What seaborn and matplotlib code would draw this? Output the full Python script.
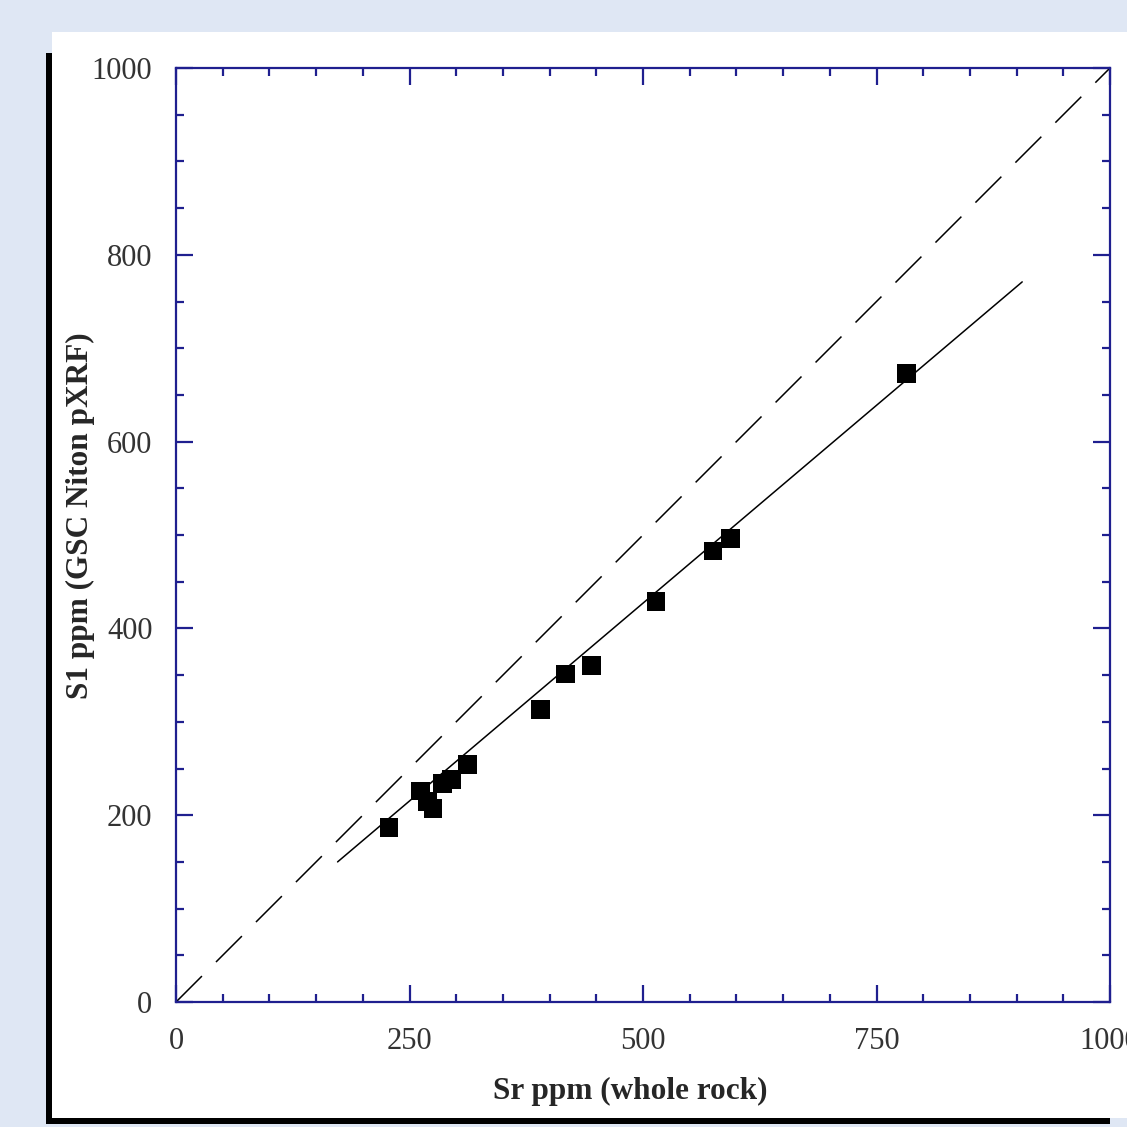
import matplotlib
matplotlib.use("Agg")
import matplotlib.pyplot as plt
import seaborn as sns
import pandas as pd
from matplotlib.patches import Rectangle
from matplotlib.ticker import MultipleLocator

# whole rock Sr vs pXRF reading
sr_whole_rock = [228, 262, 269, 275, 285, 295, 312, 390, 417, 445, 514, 575, 594, 782]
sr_pxrf = [187, 226, 215, 207, 234, 238, 254, 313, 351, 360, 429, 483, 496, 673]

# regression line end points and 1:1 line
fit_x = [173, 906]
fit_y = [150, 771]
one_x = [0, 1000]
one_y = [0, 1000]

df = pd.DataFrame({"x": sr_whole_rock, "y": sr_pxrf})

sns.set_style("ticks")
plt.rcParams["font.family"] = ["Liberation Serif", "DejaVu Serif"]

navy = "#1f1f8f"
fig = plt.figure(figsize=(11.27, 11.27), dpi=100)
fig.patch.set_facecolor("#dfe7f4")

# white panel with black left / bottom border
fig.patches.append(Rectangle((52/1127, 1-1118/1127), 1-52/1127, (1118-32)/1127,
                             transform=fig.transFigure, facecolor="white", edgecolor="none", zorder=-2))
fig.patches.append(Rectangle((46/1127, 1-1124/1127), 6/1127, (1124-53)/1127,
                             transform=fig.transFigure, facecolor="black", edgecolor="none", zorder=-1))
fig.patches.append(Rectangle((46/1127, 1-1124/1127), (1110-46)/1127, 6/1127,
                             transform=fig.transFigure, facecolor="black", edgecolor="none", zorder=-1))

ax = fig.add_axes([176/1127, 1-1002/1127, 934/1127, 934/1127])
ax.set_zorder(2)
ax.set_facecolor("white")

ax.plot(one_x, one_y, color="black", lw=1.1, dashes=(24, 13))
ax.plot(fit_x, fit_y, color="black", lw=1.1)
sns.scatterplot(data=df, x="x", y="y", marker="s", s=180, color="black",
                edgecolor="none", ax=ax, zorder=3)

ax.set_xlim(0, 1000)
ax.set_ylim(0, 1000)
ax.xaxis.set_major_locator(MultipleLocator(250))
ax.xaxis.set_minor_locator(MultipleLocator(50))
ax.yaxis.set_major_locator(MultipleLocator(200))
ax.yaxis.set_minor_locator(MultipleLocator(50))

for s in ax.spines.values():
    s.set_color(navy)
    s.set_linewidth(1.6)
ax.tick_params(which="both", direction="in", top=True, right=True, color=navy, width=1.6,
               labelsize=22, labelcolor="#333333")
ax.tick_params(which="major", length=12)
ax.tick_params(which="minor", length=6)
ax.tick_params(axis="x", pad=18)
ax.tick_params(axis="y", pad=17)

ax.set_xlabel("Sr ppm (whole rock)", fontsize=22.5, fontweight="bold")
ax.set_ylabel("S1 ppm (GSC Niton pXRF)", fontsize=22.5, fontweight="bold")
ax.xaxis.set_label_coords(0.486, -0.08)
ax.yaxis.set_label_coords(-0.087, 0.521)

fig.savefig("out.png", dpi=100, facecolor=fig.get_facecolor())
